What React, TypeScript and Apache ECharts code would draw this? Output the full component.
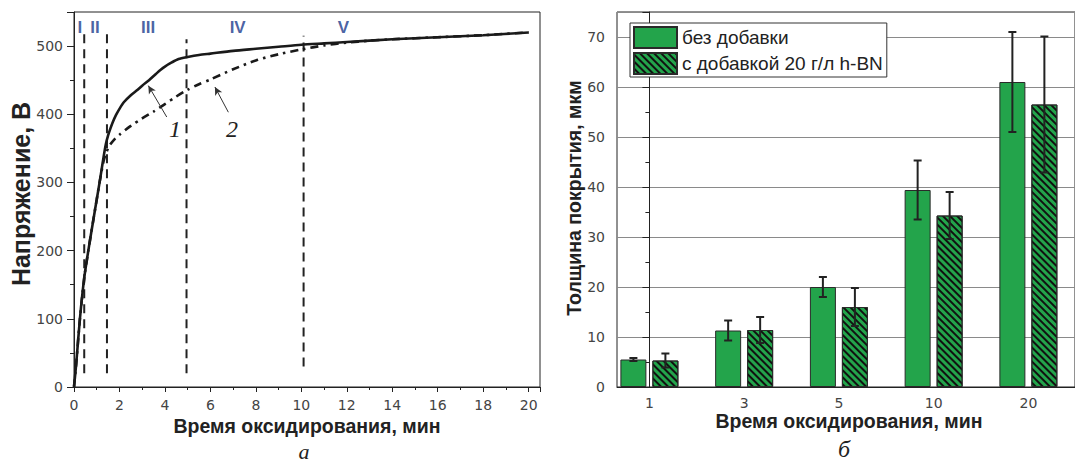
import React, { useEffect, useRef } from "react";
import * as echarts from "echarts";

// ---------- panel а: voltage vs time ----------
const time1 = [0, 0.1, 0.26, 0.45, 0.63, 0.85, 1.0, 1.14, 1.3, 1.4, 1.5, 1.6, 1.7, 1.85, 2.0, 2.2, 2.5, 2.8, 3.0, 3.3, 3.6, 3.8, 4.0, 4.3, 4.6, 5.0, 5.5, 6, 7, 8, 9, 10, 11, 12, 14, 16, 18, 20];
const voltage1 = [0, 35, 100, 160, 200, 245, 275, 303, 337, 356, 369, 379, 388, 399, 408, 418, 428, 436, 442, 450, 459, 465, 470, 476, 481, 484, 487, 489, 493, 496, 499, 502, 504, 506, 510, 513, 516, 520];
const time2 = [0, 0.1, 0.26, 0.45, 0.63, 0.85, 1.0, 1.14, 1.3, 1.4, 1.5, 1.6, 1.8, 2.0, 2.5, 3.0, 3.5, 4.0, 4.5, 5.0, 5.5, 6, 7, 8, 9, 10, 11, 12, 13, 14, 16, 18, 20];
const voltage2 = [0, 35, 100, 160, 200, 245, 275, 303, 331, 342, 350, 356, 364, 370, 383, 394, 404, 415, 426, 436, 444, 451, 466, 479, 488, 495, 501, 505, 508, 510, 513, 516, 520];

const stageBoundaryTimes = [0.45, 1.45, 4.95, 10.1];
const stageBoundaryLow = [20, 20, 20, 30];
const stageBoundaryHigh = [520, 520, 510, 515];
const stageNames = ["I", "II", "III", "IV", "V"];
const stageNameTimes = [0.26, 0.92, 3.26, 7.2, 11.85];
const stageNameVoltage = 527;

const curveLabels = ["1", "2"];
const curveLabelTimes = [4.44, 6.95];
const curveLabelVoltages = [379, 379];
const arrowFromTimes = [4.08, 6.79];
const arrowFromVoltages = [396, 403];
const arrowToTimes = [3.27, 6.2];
const arrowToVoltages = [442, 440];

// ---------- panel б: coating thickness ----------
const categories = ["1", "3", "5", "10", "20"];
const seriesNames = ["без добавки", "с добавкой 20 г/л h-BN"];
const thicknessPlain = [5.5, 11.3, 20.0, 39.4, 61.0];
const errorPlain = [0.3, 2.0, 2.0, 5.9, 10.0];
const thicknessBN = [5.3, 11.4, 16.0, 34.3, 56.5];
const errorBN = [1.4, 2.6, 3.8, 4.7, 13.6];

const SANS = '"Liberation Sans", Arial, sans-serif';
const TICK = '"DejaVu Sans", sans-serif';
const SERIF = '"Liberation Serif", "DejaVu Serif", serif';
const BAR_W = 26;
const BAR_GAP = 6;
const GREEN = "#23a44b";
const INK = "#222";
const BLUE = "#1b3a8c";

export default function App() {
  const ref = useRef<HTMLDivElement>(null);
  useEffect(() => {
    if (!ref.current) return;
    const chart = echarts.init(ref.current, undefined, { renderer: "svg" });

    const half = (BAR_W + BAR_GAP) / 2;
    const errData: number[][] = [];
    categories.forEach((_, i) => {
      errData.push([i, thicknessPlain[i], errorPlain[i], 0]);
      errData.push([i, thicknessBN[i], errorBN[i], 1]);
    });

    const tickLabel = { fontFamily: TICK, fontSize: 14, color: "#444" };
    const txt = (text: string, x: number, y: number, extra: any, rotation = 0) => ({
      type: "text", x, y, rotation,
      style: { text, fill: INK, align: "center", verticalAlign: "middle", textAlign: "center", textVerticalAlign: "middle", ...extra },
    });

    const option: any = {
      animation: false,
      grid: [
        { left: 74, right: 535, top: 12, bottom: 77, show: true, borderColor: INK, borderWidth: 1 },
        { left: 617, right: -8, top: 12, bottom: 77, show: true, borderColor: INK, borderWidth: 1 },
      ],
      xAxis: [
        {
          gridIndex: 0, type: "value", min: 0, max: 20.5, interval: 2,
          axisLine: { lineStyle: { color: INK } },
          axisTick: { length: 5, lineStyle: { color: INK } },
          minorTick: { show: true, splitNumber: 2, length: 3, lineStyle: { color: INK } },
          axisLabel: { ...tickLabel, margin: 11, showMaxLabel: false },
          splitLine: { show: false },
        },
        {
          gridIndex: 1, type: "value", min: -0.342, max: -0.342 + 466 / 96.4,
          axisLine: { lineStyle: { color: INK } },
          axisTick: { show: false },
          axisLabel: {
            ...tickLabel, margin: 9,
            customValues: categories.map((_, i) => i),
            formatter: (v: number) => categories[Math.round(v)] ?? "",
          },
          splitLine: { show: false },
        },
      ],
      yAxis: [
        {
          gridIndex: 0, type: "value", min: 0, max: 550, interval: 100,
          axisLine: { show: true, lineStyle: { color: INK } },
          axisTick: { show: true, length: 7, lineStyle: { color: INK } },
          minorTick: { show: true, splitNumber: 2, length: 4, lineStyle: { color: INK } },
          axisLabel: { ...tickLabel, margin: 11, showMaxLabel: false },
          splitLine: { show: false },
        },
        {
          gridIndex: 1, type: "value", min: 0, max: 75, interval: 10,
          axisLine: { show: true, lineStyle: { color: INK } },
          axisTick: { show: true, length: 7, lineStyle: { color: INK } },
          minorTick: { show: true, splitNumber: 2, length: 4, lineStyle: { color: INK } },
          axisLabel: { ...tickLabel, margin: 12, showMaxLabel: false },
          splitLine: { show: true, lineStyle: { color: "#8a8a8a", width: 1 } },
        },
      ],
      legend: {
        data: seriesNames,
        orient: "vertical",
        left: 630, top: 23,
        itemWidth: 43, itemHeight: 21, itemGap: 3,
        padding: [3, 4, 2, 3],
        borderColor: "#333", borderWidth: 1, backgroundColor: "#fff",
        textStyle: { fontFamily: SANS, fontSize: 19, color: INK },
        icon: "rect",
      },
      graphic: [
        txt("Напряжение, В", 21, 194, { fontFamily: SANS, fontWeight: "bold", fontSize: 25 }, Math.PI / 2),
        txt("Толщина покрытия, мкм", 574, 198, { fontFamily: SANS, fontWeight: "bold", fontSize: 19.5 }, Math.PI / 2),
        txt("Время оксидирования, мин", 307, 426, { fontFamily: SANS, fontWeight: "bold", fontSize: 19.5 }),
        txt("Время оксидирования, мин", 849, 421, { fontFamily: SANS, fontWeight: "bold", fontSize: 19.5 }),
        txt("а", 304, 451, { fontFamily: SERIF, fontStyle: "italic", fontSize: 22 }),
        txt("б", 844, 449, { fontFamily: SERIF, fontStyle: "italic", fontSize: 24 }),
      ],
      series: [
        ...stageBoundaryTimes.map((t, i) => ({
          type: "line", xAxisIndex: 0, yAxisIndex: 0, symbol: "none", silent: true, z: 1,
          data: [[t, stageBoundaryLow[i]], [t, stageBoundaryHigh[i]]],
          lineStyle: { color: INK, width: 2, type: [9, 6] },
        })),
        {
          type: "scatter", xAxisIndex: 0, yAxisIndex: 0, symbolSize: 1, silent: true,
          itemStyle: { color: "transparent" },
          data: stageNames.map((n, i) => ({ name: n, value: [stageNameTimes[i], stageNameVoltage] })),
          label: { show: true, position: "inside", formatter: "{b}", color: BLUE, fontFamily: SANS, fontWeight: "bold", fontSize: 17 },
        },
        {
          type: "line", xAxisIndex: 0, yAxisIndex: 0, symbol: "none", smooth: 0.25, z: 3,
          data: time2.map((t, i) => [t, voltage2[i]]),
          lineStyle: { color: "#1a1a1a", width: 2.6, type: [8, 5, 2.5, 5] },
        },
        {
          type: "line", xAxisIndex: 0, yAxisIndex: 0, symbol: "none", smooth: 0.25, z: 4,
          data: time1.map((t, i) => [t, voltage1[i]]),
          lineStyle: { color: "#1a1a1a", width: 2.6 },
          markLine: {
            silent: true, symbol: ["none", "arrow"], symbolSize: [6, 8],
            label: { show: false },
            lineStyle: { color: "#333", width: 1, type: "solid" },
            data: arrowFromTimes.map((t, i) => [
              { coord: [t, arrowFromVoltages[i]] },
              { coord: [arrowToTimes[i], arrowToVoltages[i]] },
            ]),
          },
          markPoint: {
            silent: true, symbol: "circle", symbolSize: 1,
            itemStyle: { color: "transparent" },
            data: curveLabels.map((l, i) => ({ name: l, coord: [curveLabelTimes[i], curveLabelVoltages[i]], value: l })),
            label: { show: true, position: "inside", formatter: "{b}", color: INK, fontFamily: SERIF, fontStyle: "italic", fontSize: 24 },
          },
        },
        {
          name: seriesNames[0], type: "bar", xAxisIndex: 1, yAxisIndex: 1,
          barWidth: BAR_W, barGap: `${(BAR_GAP / BAR_W) * 100}%`,
          data: thicknessPlain.map((v, i) => [i, v]),
          itemStyle: { color: GREEN, borderColor: "#2a2a2a", borderWidth: 1 },
        },
        {
          name: seriesNames[1], type: "bar", xAxisIndex: 1, yAxisIndex: 1,
          barWidth: BAR_W, barGap: `${(BAR_GAP / BAR_W) * 100}%`,
          data: thicknessBN.map((v, i) => [i, v]),
          itemStyle: {
            color: GREEN, borderColor: "#2a2a2a", borderWidth: 1,
            decal: { symbol: "rect", symbolSize: 1, dashArrayX: [1, 0], dashArrayY: [2, 3], rotation: Math.PI / 4, color: "#111" },
          },
        },
        {
          type: "custom", xAxisIndex: 1, yAxisIndex: 1, silent: true, z: 5,
          data: errData,
          encode: { x: 0, y: 1 },
          renderItem: (params: any, api: any) => {
            const x = api.value(0), v = api.value(1), e = api.value(2), s = api.value(3);
            const top = api.coord([x, v + e]);
            const bot = api.coord([x, v - e]);
            const px = top[0] + (s === 0 ? -half : half);
            const style = { stroke: INK, lineWidth: 2 };
            return {
              type: "group",
              children: [
                { type: "line", shape: { x1: px, y1: top[1], x2: px, y2: bot[1] }, style },
                { type: "line", shape: { x1: px - 4, y1: top[1], x2: px + 4, y2: top[1] }, style },
                { type: "line", shape: { x1: px - 4, y1: bot[1], x2: px + 4, y2: bot[1] }, style },
              ],
            };
          },
        },
      ],
    };
    chart.setOption(option);
    return () => chart.dispose();
  }, []);
  return <div ref={ref} style={{ position: "fixed", left: 0, top: 0, width: 1075, height: 464, background: "#fff" }} />;
}
